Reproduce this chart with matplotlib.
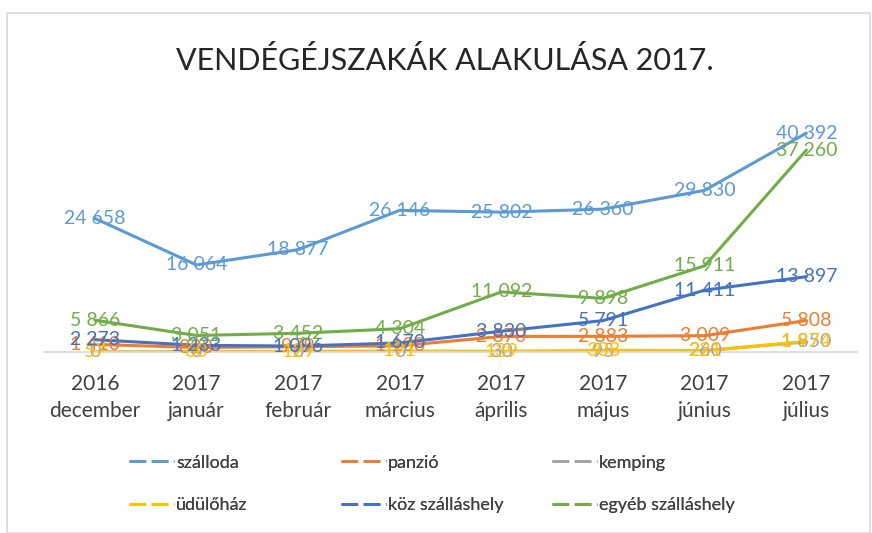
import matplotlib.pyplot as plt
from matplotlib.lines import Line2D
from matplotlib.patches import Rectangle

plt.rcParams['font.family'] = ['Lato', 'DejaVu Sans']

# vendégéjszakák 2016 december - 2017 július
months = ['2016\ndecember', '2017\njanuár', '2017\nfebruár', '2017\nmárcius',
          '2017\náprilis', '2017\nmájus', '2017\njúnius', '2017\njúlius']
szalloda = [24658, 16064, 18877, 26146, 25802, 26360, 29830, 40392]
panzio = [1410, 823, 979, 1130, 2870, 2883, 3009, 5808]
kemping = [0, 0, 0, 0, 30, 95, 260, 1850]
udulohaz = [57, 60, 129, 191, 139, 308, 221, 1974]
koz_szallashely = [2273, 1233, 1096, 1670, 3830, 5791, 11411, 13897]
egyeb_szallashely = [5866, 3051, 3452, 4304, 11092, 9898, 15911, 37260]

series = [
    ('szálloda', szalloda, '#5B9BD5'),
    ('panzió', panzio, '#ED7D31'),
    ('kemping', kemping, '#A5A5A5'),
    ('üdülőház', udulohaz, '#FFC000'),
    ('köz szálláshely', koz_szallashely, '#4472C4'),
    ('egyéb szálláshely', egyeb_szallashely, '#70AD47'),
]

fig = plt.figure(figsize=(8.72, 5.33), dpi=100)
ax = fig.add_axes([0.0505, 0.3396, 0.9325, 0.4575])

x = list(range(len(months)))
for name, vals, col in series:
    ax.plot(x, vals, color=col, lw=2.2, solid_capstyle='round', zorder=2)

# data labels centered on the points
for name, vals, col in series:
    for xi, v in zip(x, vals):
        ax.text(xi, v, f'{v:,}'.replace(',', ' '), color=col, fontsize=14,
                ha='center', va='center', zorder=3)

ax.set_xlim(-0.5, len(months) - 0.5)
ax.set_ylim(0, 45000)
ax.set_yticks([])
ax.set_xticks(x)
ax.set_xticklabels(months, fontsize=15, color='#404040', linespacing=1.45)
ax.tick_params(axis='x', length=0, pad=16)
for s in ['top', 'right', 'left']:
    ax.spines[s].set_visible(False)
ax.spines['bottom'].set_color('#D9D9D9')
ax.spines['bottom'].set_linewidth(1.2)

fig.text(0.51, 0.887, 'VENDÉGÉJSZAKÁK ALAKULÁSA 2017.', ha='center', va='center',
         fontsize=22, color='#262626')

# legend, 3 columns x 2 rows
handles = [Line2D([], [], color=col, lw=2, dashes=(6, 2)) for _, _, col in series]
labels = [name for name, _, _ in series]
col_x = [0.148, 0.391, 0.633]
for c in range(3):
    leg = fig.legend(handles[c::3], labels[c::3], loc='upper left',
                     bbox_to_anchor=(col_x[c], 0.147), frameon=False,
                     fontsize=13, handlelength=2.5, handletextpad=0.1,
                     labelspacing=1.45, borderaxespad=0, borderpad=0)
    for t in leg.get_texts():
        t.set_color('#404040')
    fig.add_artist(leg)

fig.patches.append(Rectangle((0.008, 0.0), 0.99, 0.975, transform=fig.transFigure,
                             fill=False, edgecolor='#D9D9D9', lw=1.2))

fig.savefig('out.png', dpi=100)
